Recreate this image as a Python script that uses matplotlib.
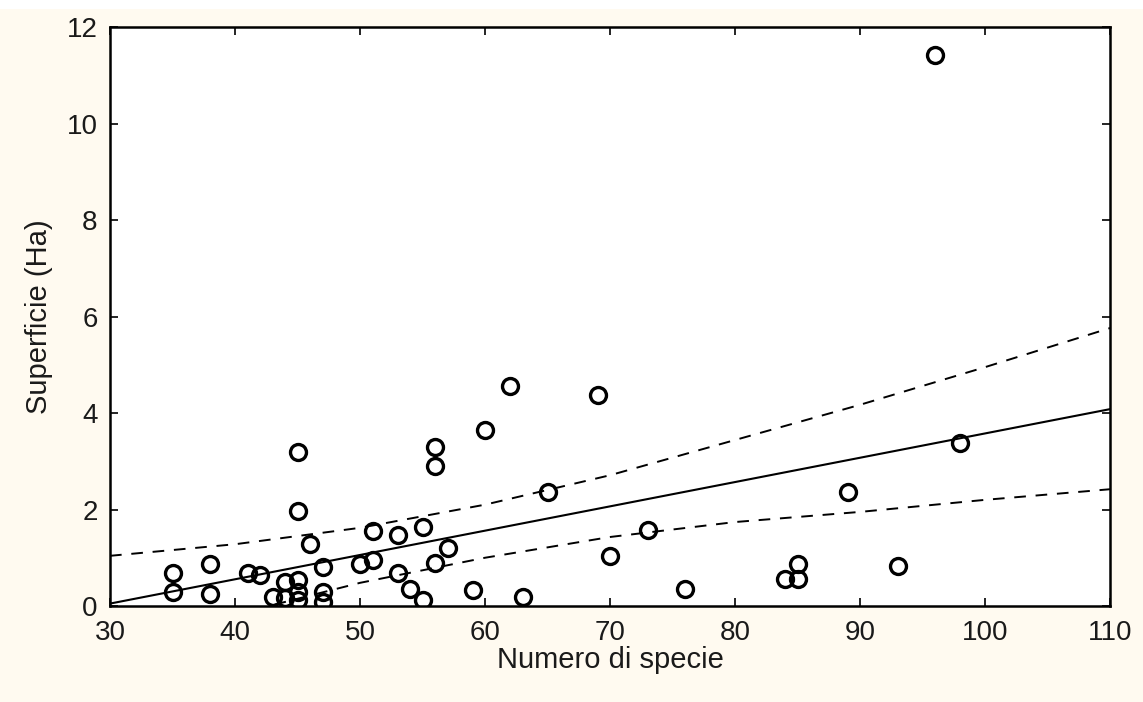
import matplotlib.pyplot as plt
from matplotlib.patches import Rectangle

# Data
species = [35, 35, 38, 38, 41, 42, 43, 44, 44, 45, 45, 45, 45, 45, 46, 47, 47, 47,
           50, 51, 51, 53, 53, 54, 55, 55, 56, 56, 56, 57, 59, 60, 62, 63, 65, 69,
           70, 73, 76, 84, 85, 85, 89, 93, 96, 98]
area_ha = [0.68, 0.28, 0.88, 0.25, 0.68, 0.64, 0.19, 0.50, 0.16, 0.54, 0.30, 0.12, 1.97, 3.20,
           1.28, 0.81, 0.30, 0.09, 0.87, 1.55, 0.95, 1.47, 0.68, 0.35, 1.64, 0.12, 3.30, 2.90,
           0.89, 1.20, 0.33, 3.65, 4.56, 0.19, 2.36, 4.37, 1.04, 1.58, 0.35, 0.56, 0.87, 0.56,
           2.36, 0.83, 11.42, 3.38]

# Regression line and confidence band, read at fixed x positions
fit_x = [30, 110]
fit_y = [0.05, 4.08]
band_x = [30, 40, 50, 60, 70, 80, 90, 100, 110]
band_upper = [1.04, 1.28, 1.62, 2.10, 2.71, 3.44, 4.17, 4.95, 5.76]
band_lower = [-0.94, -0.18, 0.48, 1.00, 1.43, 1.74, 1.95, 2.20, 2.42]

xticks = [30, 40, 50, 60, 70, 80, 90, 100, 110]
yticks = [0, 2, 4, 6, 8, 10, 12]

plt.rcParams['font.family'] = ['Liberation Sans', 'DejaVu Sans']
text_col = '#1a1a1a'

fig = plt.figure(figsize=(11.43, 7.02), dpi=100)
fig.patch.set_facecolor('#FFFAF0')
fig.patches.append(Rectangle((0, 1 - 9 / 702), 1, 9 / 702, transform=fig.transFigure,
                             facecolor='white', edgecolor='none', zorder=0))

ax = fig.add_axes([110 / 1143, 1 - 606 / 702, 1000 / 1143, 579 / 702])
ax.set_facecolor('white')

ax.plot(fit_x, fit_y, color='black', linewidth=1.5)
ax.plot(band_x, band_upper, color='black', linewidth=1.4, linestyle=(0, (6, 5)))
ax.plot(band_x, band_lower, color='black', linewidth=1.4, linestyle=(0, (6, 5)))
ax.plot(species, area_ha, linestyle='none', marker='o', markersize=11.5,
        markerfacecolor='none', markeredgecolor='black', markeredgewidth=2.4)

ax.set_xlim(30, 110)
ax.set_ylim(0, 12)
ax.set_xticks(xticks)
ax.set_yticks(yticks)
ax.tick_params(direction='in', length=6, width=1.2, top=True, right=True,
               labelsize=20, labelcolor=text_col, pad=9)
ax.tick_params(axis='x', pad=10)
for s in ax.spines.values():
    s.set_linewidth(1.8)

ax.set_xlabel('Numero di specie', fontsize=21, color=text_col, labelpad=0)
ax.set_ylabel('Superficie (Ha)', fontsize=21, color=text_col, labelpad=10)

fig.savefig('out.png', dpi=100, facecolor=fig.get_facecolor())
